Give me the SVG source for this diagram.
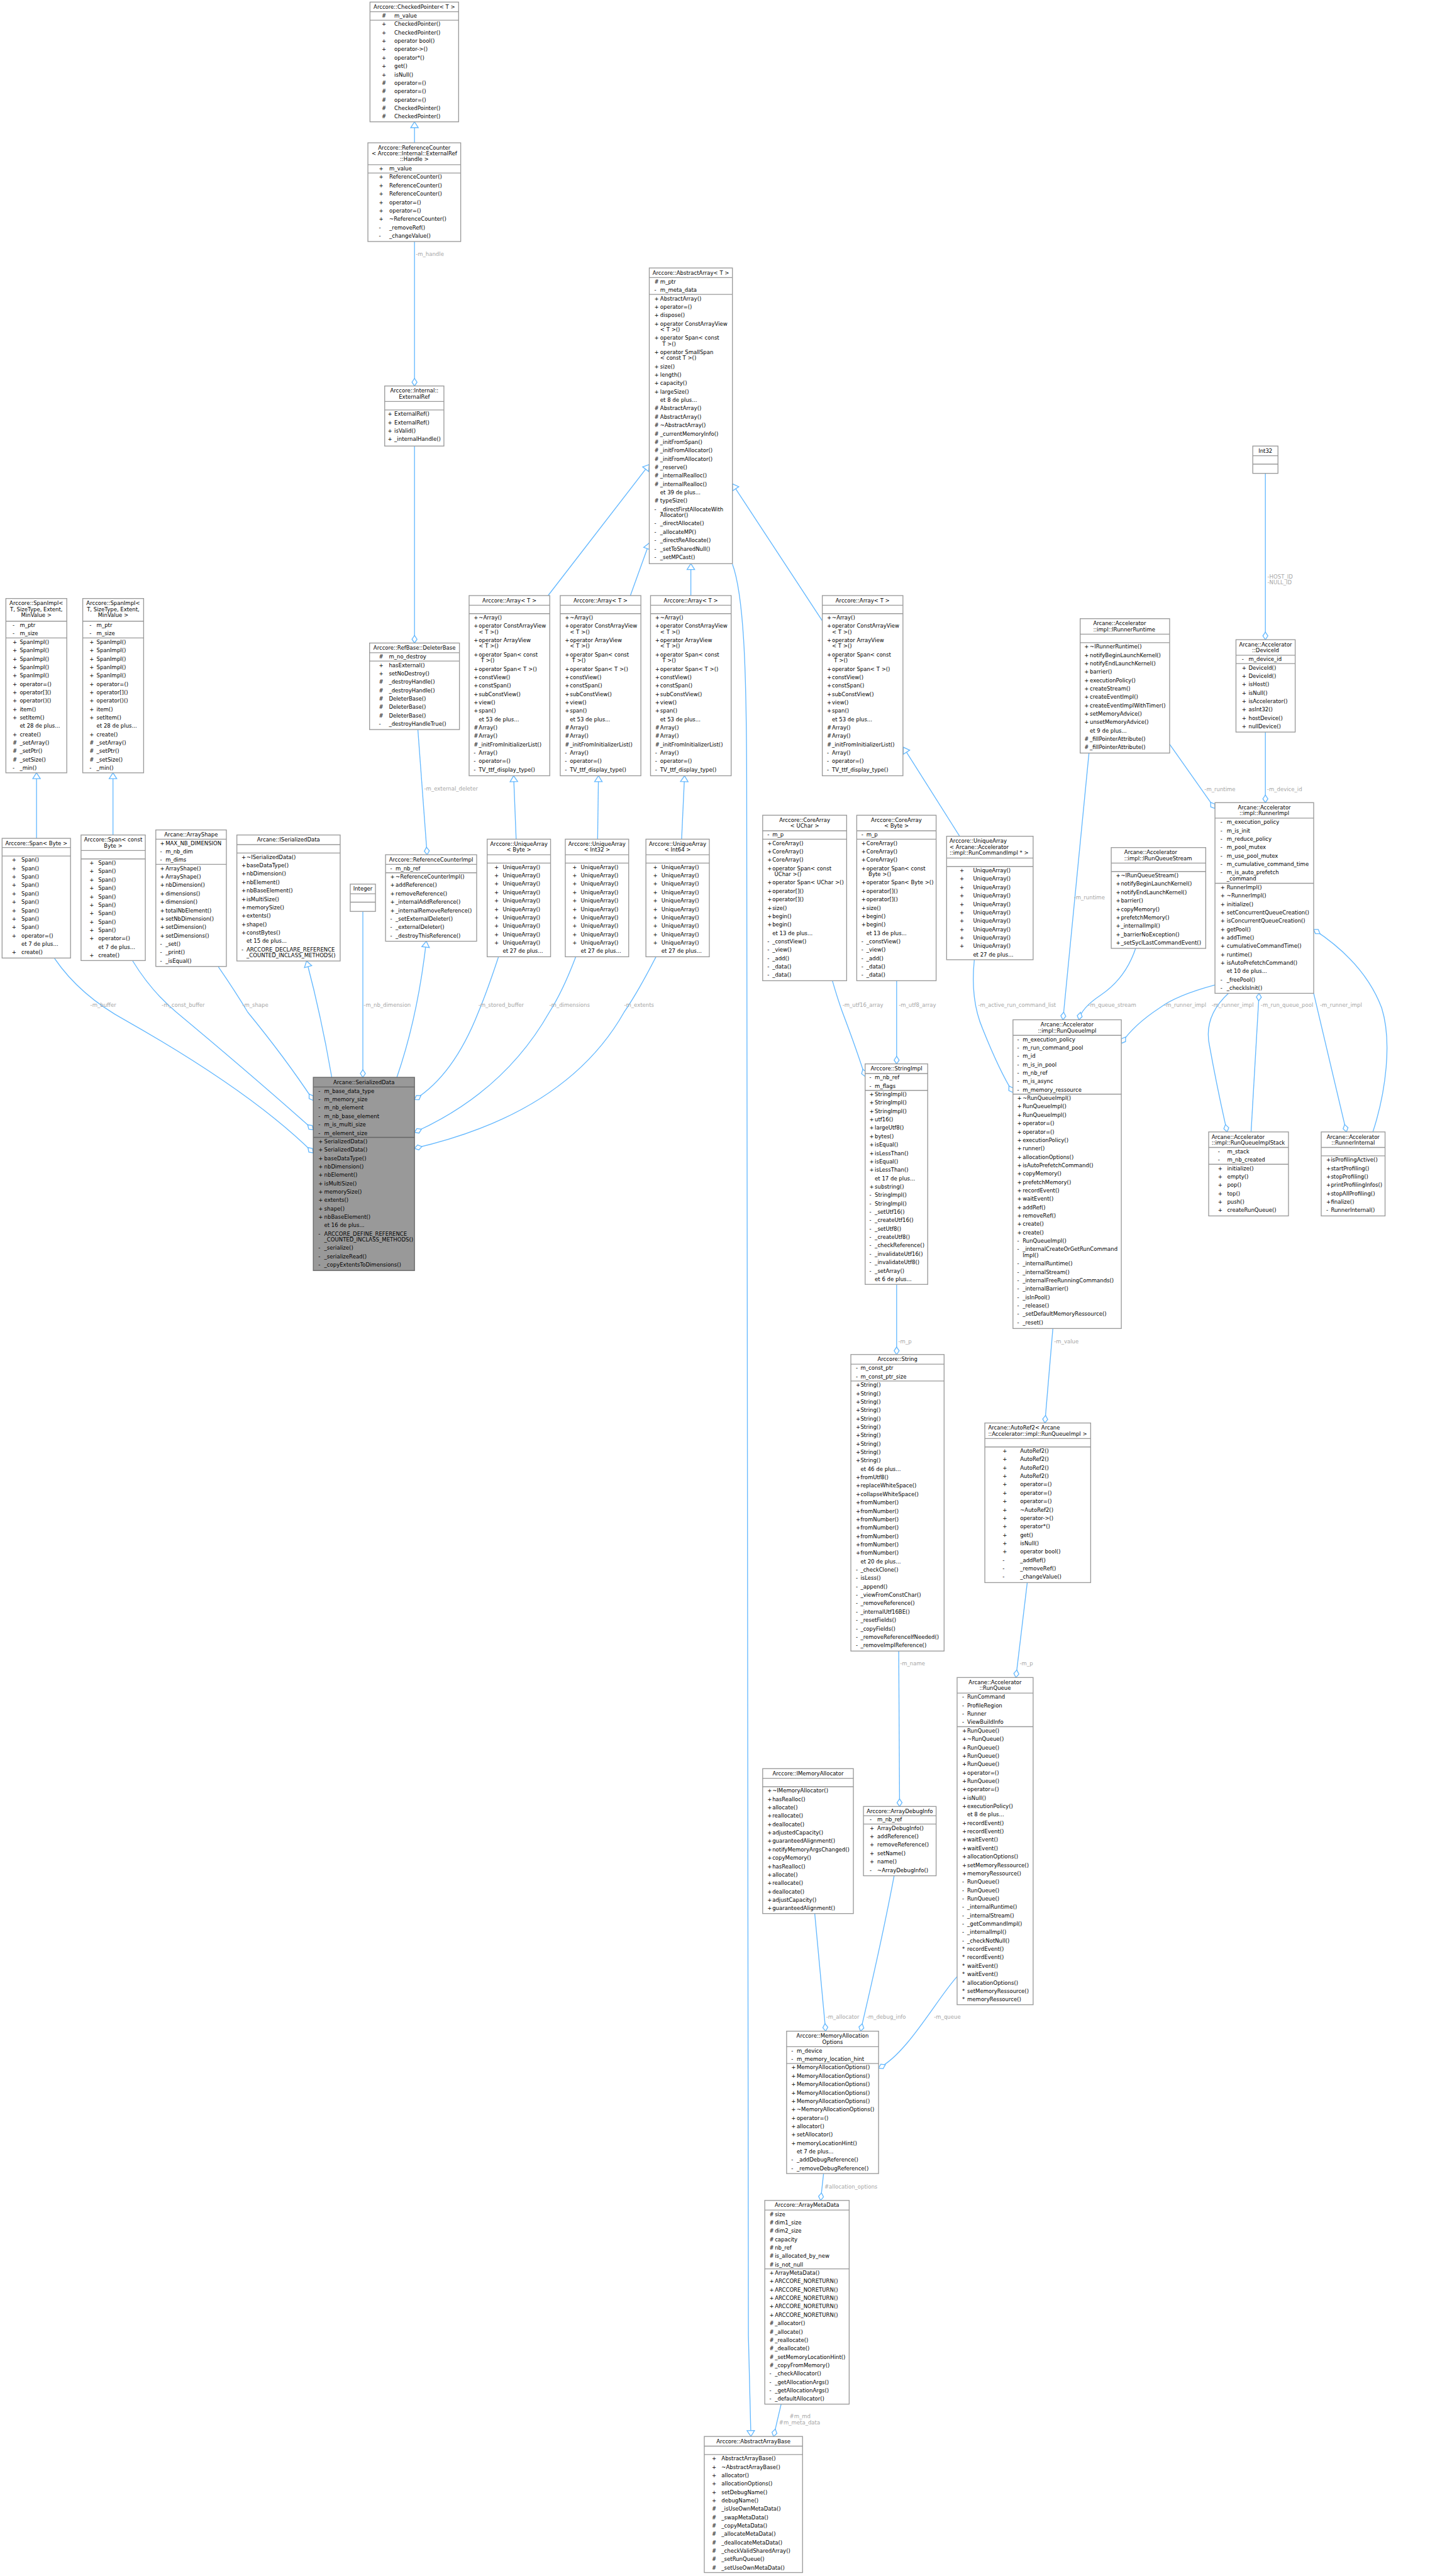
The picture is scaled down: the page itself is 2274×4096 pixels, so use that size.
<svg xmlns="http://www.w3.org/2000/svg" width="2274" height="4096" viewBox="0 0 2274 4096">
<style>
text{font-family:"DejaVu Sans",sans-serif;font-size:12.8px;fill:#000}
.c{text-anchor:middle}
.b{fill:#fff;stroke:#999;stroke-width:2}
.g{fill:#999;stroke:#666;stroke-width:2}
.s{fill:none;stroke:#999;stroke-width:2}
.sg{fill:none;stroke:#666;stroke-width:2}
.e{fill:none;stroke:#63b8ff;stroke-width:2}
.lb{fill:#a6a6a6}
</style>
<defs>
<marker id="tri" viewBox="-2 -2 18 22" refX="14" refY="9" markerWidth="18" markerHeight="22" orient="auto" markerUnits="userSpaceOnUse"><path d="M0,0L14,9L0,18Z" fill="#fff" stroke="#63b8ff" stroke-width="2"/></marker>
<marker id="dia" viewBox="-2 -2 22 16" refX="18" refY="6" markerWidth="22" markerHeight="16" orient="auto" markerUnits="userSpaceOnUse"><path d="M0,6L9,0L18,6L9,12Z" fill="#fff" stroke="#63b8ff" stroke-width="2"/></marker>
</defs>
<rect width="2274" height="4096" fill="#fff"/>
<g transform="scale(0.66784)">
<g id="edges">
<path class="e" marker-end="url(#tri)" d="M987,340L987,290"/>
<path class="e" marker-end="url(#dia)" d="M987,575L987,919"/>
<path class="e" marker-end="url(#dia)" d="M987,1062L987,1531"/>
<path class="e" marker-end="url(#dia)" d="M995,1737L1017,2035"/>
<path class="e" marker-end="url(#tri)" d="M1305,1418L1546,1106"/>
<path class="e" marker-end="url(#tri)" d="M1501,1418L1546,1293"/>
<path class="e" marker-end="url(#tri)" d="M1645,1418L1645,1342"/>
<path class="e" marker-end="url(#tri)" d="M1958,1478L1744,1152"/>
<path class="e" marker-end="url(#tri)" d="M1229,1998L1223,1847"/>
<path class="e" marker-end="url(#tri)" d="M1423,1998L1425,1847"/>
<path class="e" marker-end="url(#tri)" d="M1623,1998L1630,1847"/>
<path class="e" marker-end="url(#tri)" d="M2285,1991L2151,1779"/>
<path class="e" marker-end="url(#tri)" d="M87,1996L87,1840"/>
<path class="e" marker-end="url(#tri)" d="M269,1988L269,1840"/>
<path class="e" marker-end="url(#tri)" d="M790,2565Q765,2420 730,2288"/>
<path class="e" marker-end="url(#tri)" d="M945,2565Q995,2420 1015,2241"/>
<path class="e" marker-end="url(#dia)" d="M864,2170L864,2565"/>
<path class="e" marker-end="url(#dia)" d="M130,2282Q190,2370 300,2430Q600,2600 746,2745"/>
<path class="e" marker-end="url(#dia)" d="M316,2288Q360,2360 420,2410Q600,2560 746,2690"/>
<path class="e" marker-end="url(#dia)" d="M520,2302Q560,2360 590,2410Q680,2520 746,2620"/>
<path class="e" marker-end="url(#dia)" d="M1187,2278Q1160,2360 1139,2410Q1080,2560 987,2618"/>
<path class="e" marker-end="url(#dia)" d="M1371,2278Q1340,2360 1308,2410Q1200,2600 987,2696"/>
<path class="e" marker-end="url(#dia)" d="M1562,2278Q1520,2360 1486,2410Q1350,2650 987,2734"/>
<path class="e" marker-end="url(#tri)" d="M1744,1343C1772,1420 1778,1600 1778,1900L1782,5560L1788,5801"/>
<path class="e" marker-end="url(#dia)" d="M1982,2335Q1995,2380 2006,2410Q2040,2500 2060,2563"/>
<path class="e" marker-end="url(#dia)" d="M2135,2335L2135,2533"/>
<path class="e" marker-end="url(#dia)" d="M2320,2285Q2310,2380 2340,2450Q2380,2550 2412,2601"/>
<path class="e" marker-end="url(#dia)" d="M2593,1793L2531,2428"/>
<path class="e" marker-end="url(#dia)" d="M2704,2258Q2680,2330 2620,2370Q2575,2400 2569,2428"/>
<path class="e" marker-end="url(#dia)" d="M2893,2345Q2800,2370 2761,2400Q2700,2440 2670,2484"/>
<path class="e" marker-end="url(#dia)" d="M2979,2695L2998,2365"/>
<path class="e" marker-end="url(#dia)" d="M2925,2365Q2865,2420 2880,2490Q2900,2600 2922,2695"/>
<path class="e" marker-end="url(#dia)" d="M3128,2365L3206,2695"/>
<path class="e" marker-end="url(#dia)" d="M3269,2695C3300,2600 3315,2480 3290,2400C3260,2320 3200,2260 3128,2213"/>
<path class="e" marker-end="url(#dia)" d="M2785,1772L2893,1925"/>
<path class="e" marker-end="url(#dia)" d="M3013,1743L3013,1911"/>
<path class="e" marker-end="url(#dia)" d="M3013,1127L3013,1523"/>
<path class="e" marker-end="url(#dia)" d="M2507,3163L2488,3388"/>
<path class="e" marker-end="url(#dia)" d="M2446,3768L2419,3994"/>
<path class="e" marker-end="url(#dia)" d="M2135,3058L2135,3225"/>
<path class="e" marker-end="url(#dia)" d="M2140,3931L2142,4301"/>
<path class="e" marker-end="url(#dia)" d="M1940,4556L1966,4836"/>
<path class="e" marker-end="url(#dia)" d="M2129,4466Q2100,4620 2049,4836"/>
<path class="e" marker-end="url(#dia)" d="M2279,4706C2230,4760 2160,4890 2092,4924"/>
<path class="e" marker-end="url(#dia)" d="M1961,5175L1954,5239"/>
<path class="e" marker-end="url(#dia)" d="M1860,5724L1842,5801"/>
<text class="lb" x="990" y="610">-m_handle</text>
<text class="lb" x="1010" y="1882">-m_external_deleter</text>
<text class="lb" x="215" y="2398">-m_buffer</text>
<text class="lb" x="385" y="2398">-m_const_buffer</text>
<text class="lb" x="577" y="2398">-m_shape</text>
<text class="lb" x="866" y="2398">-m_nb_dimension</text>
<text class="lb" x="1139" y="2398">-m_stored_buffer</text>
<text class="lb" x="1308" y="2398">-m_dimensions</text>
<text class="lb" x="1486" y="2398">-m_extents</text>
<text class="lb" x="2006" y="2398">-m_utf16_array</text>
<text class="lb" x="2140" y="2398">-m_utf8_array</text>
<text class="lb" x="2329" y="2398">-m_active_run_command_list</text>
<text class="lb" x="2591" y="2398">-m_queue_stream</text>
<text class="lb" x="2772" y="2398">-m_runner_impl</text>
<text class="lb" x="2885" y="2398">-m_runner_impl</text>
<text class="lb" x="3002" y="2398">-m_run_queue_pool</text>
<text class="lb" x="3143" y="2398">-m_runner_impl</text>
<text class="lb" x="2557" y="2141">-m_runtime</text>
<text class="lb" x="2868" y="1883">-m_runtime</text>
<text class="lb" x="3017" y="1883">-m_device_id</text>
<text class="lb" x="3018" y="1377">-HOST_ID</text>
<text class="lb" x="3018" y="1391">-NULL_ID</text>
<text class="lb" x="2139" y="3198">-m_p</text>
<text class="lb" x="2510" y="3198">-m_value</text>
<text class="lb" x="2143" y="3965">-m_name</text>
<text class="lb" x="2428" y="3965">-m_p</text>
<text class="lb" x="1967" y="4806">-m_allocator</text>
<text class="lb" x="2063" y="4806">-m_debug_info</text>
<text class="lb" x="2224" y="4806">-m_queue</text>
<text class="lb" x="1963" y="5211">#allocation_options</text>
<text class="lb" x="1880" y="5757">#m_md</text>
<text class="lb" x="1855" y="5772">#m_meta_data</text>
</g>

<g id="n_checkedpointer">
<rect class="b" x="881" y="5" width="211" height="285"/>
<path class="s" d="M881,28H1092M881,48H1092"/>
<text class="c" x="986.5" y="21">Arccore::CheckedPointer&lt; T &gt;</text>
<text x="909" y="42">#<tspan x="939">m_value</tspan></text>
<text x="909" y="62">+<tspan x="939">CheckedPointer()</tspan></text>
<text x="909" y="82">+<tspan x="939">CheckedPointer()</tspan></text>
<text x="909" y="102">+<tspan x="939">operator bool()</tspan></text>
<text x="909" y="122">+<tspan x="939">operator-&gt;()</tspan></text>
<text x="909" y="142">+<tspan x="939">operator*()</tspan></text>
<text x="909" y="162">+<tspan x="939">get()</tspan></text>
<text x="909" y="182">+<tspan x="939">isNull()</tspan></text>
<text x="909" y="202">#<tspan x="939">operator=()</tspan></text>
<text x="909" y="222">#<tspan x="939">operator=()</tspan></text>
<text x="909" y="242">#<tspan x="939">operator=()</tspan></text>
<text x="909" y="262">#<tspan x="939">CheckedPointer()</tspan></text>
<text x="909" y="282">#<tspan x="939">CheckedPointer()</tspan></text>
</g>

<g id="n_referencecounter">
<rect class="b" x="876" y="340" width="221" height="235"/>
<path class="s" d="M876,392H1097M876,412H1097"/>
<text class="c" x="986.5" y="356">Arccore::ReferenceCounter</text>
<text class="c" x="986.5" y="370">&lt; Arccore::Internal::ExternalRef</text>
<text class="c" x="986.5" y="384">::Handle &gt;</text>
<text x="902" y="406">+<tspan x="927">m_value</tspan></text>
<text x="902" y="426">+<tspan x="927">ReferenceCounter()</tspan></text>
<text x="902" y="446">+<tspan x="927">ReferenceCounter()</tspan></text>
<text x="902" y="466">+<tspan x="927">ReferenceCounter()</tspan></text>
<text x="902" y="486">+<tspan x="927">operator=()</tspan></text>
<text x="902" y="506">+<tspan x="927">operator=()</tspan></text>
<text x="902" y="526">+<tspan x="927">~ReferenceCounter()</tspan></text>
<text x="902" y="546">-<tspan x="927">_removeRef()</tspan></text>
<text x="902" y="566">-<tspan x="927">_changeValue()</tspan></text>
</g>

<g id="n_externalref">
<rect class="b" x="916" y="919" width="141" height="143"/>
<path class="s" d="M916,956H1057M916,976H1057"/>
<text class="c" x="986.5" y="935">Arccore::Internal::</text>
<text class="c" x="986.5" y="949">ExternalRef</text>
<text x="923" y="990">+<tspan x="939">ExternalRef()</tspan></text>
<text x="923" y="1010">+<tspan x="939">ExternalRef()</tspan></text>
<text x="923" y="1030">+<tspan x="939">isValid()</tspan></text>
<text x="923" y="1050">+<tspan x="939">_internalHandle()</tspan></text>
</g>

<g id="n_deleterbase">
<rect class="b" x="880" y="1531" width="214" height="206"/>
<path class="s" d="M880,1554H1094M880,1574H1094"/>
<text class="c" x="987" y="1547">Arccore::RefBase::DeleterBase</text>
<text x="902" y="1568">#<tspan x="926">m_no_destroy</tspan></text>
<text x="902" y="1588">+<tspan x="926">hasExternal()</tspan></text>
<text x="902" y="1608">+<tspan x="926">setNoDestroy()</tspan></text>
<text x="902" y="1628">#<tspan x="926">_destroyHandle()</tspan></text>
<text x="902" y="1648">#<tspan x="926">_destroyHandle()</tspan></text>
<text x="902" y="1668">#<tspan x="926">DeleterBase()</tspan></text>
<text x="902" y="1688">#<tspan x="926">DeleterBase()</tspan></text>
<text x="902" y="1708">#<tspan x="926">DeleterBase()</tspan></text>
<text x="902" y="1728">-<tspan x="926">_destroyHandleTrue()</tspan></text>
</g>

<g id="n_abstractarray">
<rect class="b" x="1546" y="638" width="198" height="704"/>
<path class="s" d="M1546,661H1744M1546,701H1744"/>
<text class="c" x="1645" y="654">Arccore::AbstractArray&lt; T &gt;</text>
<text x="1558" y="675">#<tspan x="1572">m_ptr</tspan></text>
<text x="1558" y="695">-<tspan x="1572">m_meta_data</tspan></text>
<text x="1558" y="715">+<tspan x="1572">AbstractArray()</tspan></text>
<text x="1558" y="735">+<tspan x="1572">operator=()</tspan></text>
<text x="1558" y="755">+<tspan x="1572">dispose()</tspan></text>
<text x="1558" y="775">+<tspan x="1572">operator ConstArrayView</tspan></text>
<text x="1572" y="789">&lt; T &gt;()</text>
<text x="1558" y="809">+<tspan x="1572">operator Span&lt; const</tspan></text>
<text x="1577" y="823">T &gt;()</text>
<text x="1558" y="843">+<tspan x="1572">operator SmallSpan</tspan></text>
<text x="1572" y="857">&lt; const T &gt;()</text>
<text x="1558" y="877">+<tspan x="1572">size()</tspan></text>
<text x="1558" y="897">+<tspan x="1572">length()</tspan></text>
<text x="1558" y="917">+<tspan x="1572">capacity()</tspan></text>
<text x="1558" y="937">+<tspan x="1572">largeSize()</tspan></text>
<text x="1572" y="957">et 8 de plus...</text>
<text x="1558" y="977">#<tspan x="1572">AbstractArray()</tspan></text>
<text x="1558" y="997">#<tspan x="1572">AbstractArray()</tspan></text>
<text x="1558" y="1017">#<tspan x="1572">~AbstractArray()</tspan></text>
<text x="1558" y="1037">#<tspan x="1572">_currentMemoryInfo()</tspan></text>
<text x="1558" y="1057">#<tspan x="1572">_initFromSpan()</tspan></text>
<text x="1558" y="1077">#<tspan x="1572">_initFromAllocator()</tspan></text>
<text x="1558" y="1097">#<tspan x="1572">_initFromAllocator()</tspan></text>
<text x="1558" y="1117">#<tspan x="1572">_reserve()</tspan></text>
<text x="1558" y="1137">#<tspan x="1572">_internalRealloc()</tspan></text>
<text x="1558" y="1157">#<tspan x="1572">_internalRealloc()</tspan></text>
<text x="1572" y="1177">et 39 de plus...</text>
<text x="1558" y="1197">#<tspan x="1572">typeSize()</tspan></text>
<text x="1558" y="1217">-<tspan x="1572">_directFirstAllocateWith</tspan></text>
<text x="1572" y="1231">Allocator()</text>
<text x="1558" y="1251">-<tspan x="1572">_directAllocate()</tspan></text>
<text x="1558" y="1271">-<tspan x="1572">_allocateMP()</tspan></text>
<text x="1558" y="1291">-<tspan x="1572">_directReAllocate()</tspan></text>
<text x="1558" y="1311">-<tspan x="1572">_setToSharedNull()</tspan></text>
<text x="1558" y="1331">-<tspan x="1572">_setMPCast()</tspan></text>
</g>

<g id="n_array1">
<rect class="b" x="1117" y="1418" width="192" height="429"/>
<path class="s" d="M1117,1441H1309M1117,1461H1309"/>
<text class="c" x="1213" y="1434">Arccore::Array&lt; T &gt;</text>
<text x="1128" y="1475">+<tspan x="1140">~Array()</tspan></text>
<text x="1128" y="1495">+<tspan x="1140">operator ConstArrayView</tspan></text>
<text x="1140" y="1509">&lt; T &gt;()</text>
<text x="1128" y="1529">+<tspan x="1140">operator ArrayView</tspan></text>
<text x="1140" y="1543">&lt; T &gt;()</text>
<text x="1128" y="1563">+<tspan x="1140">operator Span&lt; const</tspan></text>
<text x="1145" y="1577">T &gt;()</text>
<text x="1128" y="1597">+<tspan x="1140">operator Span&lt; T &gt;()</tspan></text>
<text x="1128" y="1617">+<tspan x="1140">constView()</tspan></text>
<text x="1128" y="1637">+<tspan x="1140">constSpan()</tspan></text>
<text x="1128" y="1657">+<tspan x="1140">subConstView()</tspan></text>
<text x="1128" y="1677">+<tspan x="1140">view()</tspan></text>
<text x="1128" y="1697">+<tspan x="1140">span()</tspan></text>
<text x="1140" y="1717">et 53 de plus...</text>
<text x="1128" y="1737">#<tspan x="1140">Array()</tspan></text>
<text x="1128" y="1757">#<tspan x="1140">Array()</tspan></text>
<text x="1128" y="1777">#<tspan x="1140">_initFromInitializerList()</tspan></text>
<text x="1128" y="1797">-<tspan x="1140">Array()</tspan></text>
<text x="1128" y="1817">-<tspan x="1140">operator=()</tspan></text>
<text x="1128" y="1837">-<tspan x="1140">TV_ttf_display_type()</tspan></text>
</g>

<g id="n_array2">
<rect class="b" x="1334" y="1418" width="192" height="429"/>
<path class="s" d="M1334,1441H1526M1334,1461H1526"/>
<text class="c" x="1430" y="1434">Arccore::Array&lt; T &gt;</text>
<text x="1345" y="1475">+<tspan x="1357">~Array()</tspan></text>
<text x="1345" y="1495">+<tspan x="1357">operator ConstArrayView</tspan></text>
<text x="1357" y="1509">&lt; T &gt;()</text>
<text x="1345" y="1529">+<tspan x="1357">operator ArrayView</tspan></text>
<text x="1357" y="1543">&lt; T &gt;()</text>
<text x="1345" y="1563">+<tspan x="1357">operator Span&lt; const</tspan></text>
<text x="1362" y="1577">T &gt;()</text>
<text x="1345" y="1597">+<tspan x="1357">operator Span&lt; T &gt;()</tspan></text>
<text x="1345" y="1617">+<tspan x="1357">constView()</tspan></text>
<text x="1345" y="1637">+<tspan x="1357">constSpan()</tspan></text>
<text x="1345" y="1657">+<tspan x="1357">subConstView()</tspan></text>
<text x="1345" y="1677">+<tspan x="1357">view()</tspan></text>
<text x="1345" y="1697">+<tspan x="1357">span()</tspan></text>
<text x="1357" y="1717">et 53 de plus...</text>
<text x="1345" y="1737">#<tspan x="1357">Array()</tspan></text>
<text x="1345" y="1757">#<tspan x="1357">Array()</tspan></text>
<text x="1345" y="1777">#<tspan x="1357">_initFromInitializerList()</tspan></text>
<text x="1345" y="1797">-<tspan x="1357">Array()</tspan></text>
<text x="1345" y="1817">-<tspan x="1357">operator=()</tspan></text>
<text x="1345" y="1837">-<tspan x="1357">TV_ttf_display_type()</tspan></text>
</g>

<g id="n_array3">
<rect class="b" x="1549" y="1418" width="192" height="429"/>
<path class="s" d="M1549,1441H1741M1549,1461H1741"/>
<text class="c" x="1645" y="1434">Arccore::Array&lt; T &gt;</text>
<text x="1560" y="1475">+<tspan x="1572">~Array()</tspan></text>
<text x="1560" y="1495">+<tspan x="1572">operator ConstArrayView</tspan></text>
<text x="1572" y="1509">&lt; T &gt;()</text>
<text x="1560" y="1529">+<tspan x="1572">operator ArrayView</tspan></text>
<text x="1572" y="1543">&lt; T &gt;()</text>
<text x="1560" y="1563">+<tspan x="1572">operator Span&lt; const</tspan></text>
<text x="1577" y="1577">T &gt;()</text>
<text x="1560" y="1597">+<tspan x="1572">operator Span&lt; T &gt;()</tspan></text>
<text x="1560" y="1617">+<tspan x="1572">constView()</tspan></text>
<text x="1560" y="1637">+<tspan x="1572">constSpan()</tspan></text>
<text x="1560" y="1657">+<tspan x="1572">subConstView()</tspan></text>
<text x="1560" y="1677">+<tspan x="1572">view()</tspan></text>
<text x="1560" y="1697">+<tspan x="1572">span()</tspan></text>
<text x="1572" y="1717">et 53 de plus...</text>
<text x="1560" y="1737">#<tspan x="1572">Array()</tspan></text>
<text x="1560" y="1757">#<tspan x="1572">Array()</tspan></text>
<text x="1560" y="1777">#<tspan x="1572">_initFromInitializerList()</tspan></text>
<text x="1560" y="1797">-<tspan x="1572">Array()</tspan></text>
<text x="1560" y="1817">-<tspan x="1572">operator=()</tspan></text>
<text x="1560" y="1837">-<tspan x="1572">TV_ttf_display_type()</tspan></text>
</g>

<g id="n_array4">
<rect class="b" x="1958" y="1418" width="192" height="429"/>
<path class="s" d="M1958,1441H2150M1958,1461H2150"/>
<text class="c" x="2054" y="1434">Arccore::Array&lt; T &gt;</text>
<text x="1969" y="1475">+<tspan x="1981">~Array()</tspan></text>
<text x="1969" y="1495">+<tspan x="1981">operator ConstArrayView</tspan></text>
<text x="1981" y="1509">&lt; T &gt;()</text>
<text x="1969" y="1529">+<tspan x="1981">operator ArrayView</tspan></text>
<text x="1981" y="1543">&lt; T &gt;()</text>
<text x="1969" y="1563">+<tspan x="1981">operator Span&lt; const</tspan></text>
<text x="1986" y="1577">T &gt;()</text>
<text x="1969" y="1597">+<tspan x="1981">operator Span&lt; T &gt;()</tspan></text>
<text x="1969" y="1617">+<tspan x="1981">constView()</tspan></text>
<text x="1969" y="1637">+<tspan x="1981">constSpan()</tspan></text>
<text x="1969" y="1657">+<tspan x="1981">subConstView()</tspan></text>
<text x="1969" y="1677">+<tspan x="1981">view()</tspan></text>
<text x="1969" y="1697">+<tspan x="1981">span()</tspan></text>
<text x="1981" y="1717">et 53 de plus...</text>
<text x="1969" y="1737">#<tspan x="1981">Array()</tspan></text>
<text x="1969" y="1757">#<tspan x="1981">Array()</tspan></text>
<text x="1969" y="1777">#<tspan x="1981">_initFromInitializerList()</tspan></text>
<text x="1969" y="1797">-<tspan x="1981">Array()</tspan></text>
<text x="1969" y="1817">-<tspan x="1981">operator=()</tspan></text>
<text x="1969" y="1837">-<tspan x="1981">TV_ttf_display_type()</tspan></text>
</g>

<g id="n_spanimpl1">
<rect class="b" x="14" y="1425" width="145" height="415"/>
<path class="s" d="M14,1479H159M14,1519H159"/>
<text class="c" x="86.5" y="1441">Arccore::SpanImpl&lt;</text>
<text class="c" x="86.5" y="1455">T, SizeType, Extent,</text>
<text class="c" x="86.5" y="1469">MinValue &gt;</text>
<text x="30" y="1493">-<tspan x="47">m_ptr</tspan></text>
<text x="30" y="1513">-<tspan x="47">m_size</tspan></text>
<text x="30" y="1533">+<tspan x="47">SpanImpl()</tspan></text>
<text x="30" y="1553">+<tspan x="47">SpanImpl()</tspan></text>
<text x="30" y="1573">+<tspan x="47">SpanImpl()</tspan></text>
<text x="30" y="1593">+<tspan x="47">SpanImpl()</tspan></text>
<text x="30" y="1613">+<tspan x="47">SpanImpl()</tspan></text>
<text x="30" y="1633">+<tspan x="47">operator=()</tspan></text>
<text x="30" y="1653">+<tspan x="47">operator[]()</tspan></text>
<text x="30" y="1673">+<tspan x="47">operator()()</tspan></text>
<text x="30" y="1693">+<tspan x="47">item()</tspan></text>
<text x="30" y="1713">+<tspan x="47">setItem()</tspan></text>
<text x="47" y="1733">et 28 de plus...</text>
<text x="30" y="1753">+<tspan x="47">create()</tspan></text>
<text x="30" y="1773">#<tspan x="47">_setArray()</tspan></text>
<text x="30" y="1793">#<tspan x="47">_setPtr()</tspan></text>
<text x="30" y="1813">#<tspan x="47">_setSize()</tspan></text>
<text x="30" y="1833">-<tspan x="47">_min()</tspan></text>
</g>

<g id="n_spanimpl2">
<rect class="b" x="197" y="1425" width="145" height="415"/>
<path class="s" d="M197,1479H342M197,1519H342"/>
<text class="c" x="269.5" y="1441">Arccore::SpanImpl&lt;</text>
<text class="c" x="269.5" y="1455">T, SizeType, Extent,</text>
<text class="c" x="269.5" y="1469">MinValue &gt;</text>
<text x="213" y="1493">-<tspan x="230">m_ptr</tspan></text>
<text x="213" y="1513">-<tspan x="230">m_size</tspan></text>
<text x="213" y="1533">+<tspan x="230">SpanImpl()</tspan></text>
<text x="213" y="1553">+<tspan x="230">SpanImpl()</tspan></text>
<text x="213" y="1573">+<tspan x="230">SpanImpl()</tspan></text>
<text x="213" y="1593">+<tspan x="230">SpanImpl()</tspan></text>
<text x="213" y="1613">+<tspan x="230">SpanImpl()</tspan></text>
<text x="213" y="1633">+<tspan x="230">operator=()</tspan></text>
<text x="213" y="1653">+<tspan x="230">operator[]()</tspan></text>
<text x="213" y="1673">+<tspan x="230">operator()()</tspan></text>
<text x="213" y="1693">+<tspan x="230">item()</tspan></text>
<text x="213" y="1713">+<tspan x="230">setItem()</tspan></text>
<text x="230" y="1733">et 28 de plus...</text>
<text x="213" y="1753">+<tspan x="230">create()</tspan></text>
<text x="213" y="1773">#<tspan x="230">_setArray()</tspan></text>
<text x="213" y="1793">#<tspan x="230">_setPtr()</tspan></text>
<text x="213" y="1813">#<tspan x="230">_setSize()</tspan></text>
<text x="213" y="1833">-<tspan x="230">_min()</tspan></text>
</g>

<g id="n_span_byte">
<rect class="b" x="5" y="1996" width="163" height="285"/>
<path class="s" d="M5,2018H168M5,2038H168"/>
<text class="c" x="86.5" y="2012">Arccore::Span&lt; Byte &gt;</text>
<text x="28" y="2052">+<tspan x="51">Span()</tspan></text>
<text x="28" y="2072">+<tspan x="51">Span()</tspan></text>
<text x="28" y="2092">+<tspan x="51">Span()</tspan></text>
<text x="28" y="2112">+<tspan x="51">Span()</tspan></text>
<text x="28" y="2132">+<tspan x="51">Span()</tspan></text>
<text x="28" y="2152">+<tspan x="51">Span()</tspan></text>
<text x="28" y="2172">+<tspan x="51">Span()</tspan></text>
<text x="28" y="2192">+<tspan x="51">Span()</tspan></text>
<text x="28" y="2212">+<tspan x="51">Span()</tspan></text>
<text x="28" y="2232">+<tspan x="51">operator=()</tspan></text>
<text x="51" y="2252">et 7 de plus...</text>
<text x="28" y="2272">+<tspan x="51">create()</tspan></text>
</g>

<g id="n_span_constbyte">
<rect class="b" x="193" y="1988" width="153" height="299"/>
<path class="s" d="M193,2025H346M193,2045H346"/>
<text class="c" x="269.5" y="2004">Arccore::Span&lt; const</text>
<text class="c" x="269.5" y="2018">Byte &gt;</text>
<text x="213" y="2059">+<tspan x="234">Span()</tspan></text>
<text x="213" y="2079">+<tspan x="234">Span()</tspan></text>
<text x="213" y="2099">+<tspan x="234">Span()</tspan></text>
<text x="213" y="2119">+<tspan x="234">Span()</tspan></text>
<text x="213" y="2139">+<tspan x="234">Span()</tspan></text>
<text x="213" y="2159">+<tspan x="234">Span()</tspan></text>
<text x="213" y="2179">+<tspan x="234">Span()</tspan></text>
<text x="213" y="2199">+<tspan x="234">Span()</tspan></text>
<text x="213" y="2219">+<tspan x="234">Span()</tspan></text>
<text x="213" y="2239">+<tspan x="234">operator=()</tspan></text>
<text x="234" y="2259">et 7 de plus...</text>
<text x="213" y="2279">+<tspan x="234">create()</tspan></text>
</g>

<g id="n_arrayshape">
<rect class="b" x="371" y="1976" width="168" height="325"/>
<path class="s" d="M371,1998H539M371,2058H539"/>
<text class="c" x="455" y="1992">Arcane::ArrayShape</text>
<text x="381" y="2012">+<tspan x="394">MAX_NB_DIMENSION</tspan></text>
<text x="381" y="2032">-<tspan x="394">m_nb_dim</tspan></text>
<text x="381" y="2052">-<tspan x="394">m_dims</tspan></text>
<text x="381" y="2072">+<tspan x="394">ArrayShape()</tspan></text>
<text x="381" y="2092">+<tspan x="394">ArrayShape()</tspan></text>
<text x="381" y="2112">+<tspan x="394">nbDimension()</tspan></text>
<text x="381" y="2132">+<tspan x="394">dimensions()</tspan></text>
<text x="381" y="2152">+<tspan x="394">dimension()</tspan></text>
<text x="381" y="2172">+<tspan x="394">totalNbElement()</tspan></text>
<text x="381" y="2192">+<tspan x="394">setNbDimension()</tspan></text>
<text x="381" y="2212">+<tspan x="394">setDimension()</tspan></text>
<text x="381" y="2232">+<tspan x="394">setDimensions()</tspan></text>
<text x="381" y="2252">-<tspan x="394">_set()</tspan></text>
<text x="381" y="2272">-<tspan x="394">_print()</tspan></text>
<text x="381" y="2292">-<tspan x="394">_isEqual()</tspan></text>
</g>

<g id="n_iserializeddata">
<rect class="b" x="564" y="1988" width="246" height="300"/>
<path class="s" d="M564,2011H810M564,2031H810"/>
<text class="c" x="687" y="2004">Arcane::ISerializedData</text>
<text x="575" y="2045">+<tspan x="587">~ISerializedData()</tspan></text>
<text x="575" y="2065">+<tspan x="587">baseDataType()</tspan></text>
<text x="575" y="2085">+<tspan x="587">nbDimension()</tspan></text>
<text x="575" y="2105">+<tspan x="587">nbElement()</tspan></text>
<text x="575" y="2125">+<tspan x="587">nbBaseElement()</tspan></text>
<text x="575" y="2145">+<tspan x="587">isMultiSize()</tspan></text>
<text x="575" y="2165">+<tspan x="587">memorySize()</tspan></text>
<text x="575" y="2185">+<tspan x="587">extents()</tspan></text>
<text x="575" y="2205">+<tspan x="587">shape()</tspan></text>
<text x="575" y="2225">+<tspan x="587">constBytes()</tspan></text>
<text x="587" y="2245">et 15 de plus...</text>
<text x="575" y="2265">-<tspan x="587">ARCCORE_DECLARE_REFERENCE</tspan></text>
<text x="587" y="2279">_COUNTED_INCLASS_METHODS()</text>
</g>

<g id="n_integer">
<rect class="b" x="834" y="2105" width="60" height="65"/>
<path class="s" d="M834,2128H894M834,2148H894"/>
<text class="c" x="864" y="2121">Integer</text>
</g>

<g id="n_refcounterimpl">
<rect class="b" x="918" y="2035" width="217" height="206"/>
<path class="s" d="M918,2058H1135M918,2078H1135"/>
<text class="c" x="1026.5" y="2051">Arccore::ReferenceCounterImpl</text>
<text x="929" y="2072">-<tspan x="942">m_nb_ref</tspan></text>
<text x="929" y="2092">+<tspan x="942">~ReferenceCounterImpl()</tspan></text>
<text x="929" y="2112">+<tspan x="942">addReference()</tspan></text>
<text x="929" y="2132">+<tspan x="942">removeReference()</tspan></text>
<text x="929" y="2152">+<tspan x="942">_internalAddReference()</tspan></text>
<text x="929" y="2172">+<tspan x="942">_internalRemoveReference()</tspan></text>
<text x="929" y="2192">-<tspan x="942">_setExternalDeleter()</tspan></text>
<text x="929" y="2212">-<tspan x="942">_externalDeleter()</tspan></text>
<text x="929" y="2232">-<tspan x="942">_destroyThisReference()</tspan></text>
</g>

<g id="n_uniquearray_byte">
<rect class="b" x="1160" y="1998" width="151" height="280"/>
<path class="s" d="M1160,2035H1311M1160,2055H1311"/>
<text class="c" x="1235.5" y="2014">Arccore::UniqueArray</text>
<text class="c" x="1235.5" y="2028">&lt; Byte &gt;</text>
<text x="1177" y="2069">+<tspan x="1197">UniqueArray()</tspan></text>
<text x="1177" y="2089">+<tspan x="1197">UniqueArray()</tspan></text>
<text x="1177" y="2109">+<tspan x="1197">UniqueArray()</tspan></text>
<text x="1177" y="2129">+<tspan x="1197">UniqueArray()</tspan></text>
<text x="1177" y="2149">+<tspan x="1197">UniqueArray()</tspan></text>
<text x="1177" y="2169">+<tspan x="1197">UniqueArray()</tspan></text>
<text x="1177" y="2189">+<tspan x="1197">UniqueArray()</tspan></text>
<text x="1177" y="2209">+<tspan x="1197">UniqueArray()</tspan></text>
<text x="1177" y="2229">+<tspan x="1197">UniqueArray()</tspan></text>
<text x="1177" y="2249">+<tspan x="1197">UniqueArray()</tspan></text>
<text x="1197" y="2269">et 27 de plus...</text>
</g>

<g id="n_uniquearray_int32">
<rect class="b" x="1346" y="1998" width="151" height="280"/>
<path class="s" d="M1346,2035H1497M1346,2055H1497"/>
<text class="c" x="1421.5" y="2014">Arccore::UniqueArray</text>
<text class="c" x="1421.5" y="2028">&lt; Int32 &gt;</text>
<text x="1363" y="2069">+<tspan x="1383">UniqueArray()</tspan></text>
<text x="1363" y="2089">+<tspan x="1383">UniqueArray()</tspan></text>
<text x="1363" y="2109">+<tspan x="1383">UniqueArray()</tspan></text>
<text x="1363" y="2129">+<tspan x="1383">UniqueArray()</tspan></text>
<text x="1363" y="2149">+<tspan x="1383">UniqueArray()</tspan></text>
<text x="1363" y="2169">+<tspan x="1383">UniqueArray()</tspan></text>
<text x="1363" y="2189">+<tspan x="1383">UniqueArray()</tspan></text>
<text x="1363" y="2209">+<tspan x="1383">UniqueArray()</tspan></text>
<text x="1363" y="2229">+<tspan x="1383">UniqueArray()</tspan></text>
<text x="1363" y="2249">+<tspan x="1383">UniqueArray()</tspan></text>
<text x="1383" y="2269">et 27 de plus...</text>
</g>

<g id="n_uniquearray_int64">
<rect class="b" x="1538" y="1998" width="151" height="280"/>
<path class="s" d="M1538,2035H1689M1538,2055H1689"/>
<text class="c" x="1613.5" y="2014">Arccore::UniqueArray</text>
<text class="c" x="1613.5" y="2028">&lt; Int64 &gt;</text>
<text x="1555" y="2069">+<tspan x="1575">UniqueArray()</tspan></text>
<text x="1555" y="2089">+<tspan x="1575">UniqueArray()</tspan></text>
<text x="1555" y="2109">+<tspan x="1575">UniqueArray()</tspan></text>
<text x="1555" y="2129">+<tspan x="1575">UniqueArray()</tspan></text>
<text x="1555" y="2149">+<tspan x="1575">UniqueArray()</tspan></text>
<text x="1555" y="2169">+<tspan x="1575">UniqueArray()</tspan></text>
<text x="1555" y="2189">+<tspan x="1575">UniqueArray()</tspan></text>
<text x="1555" y="2209">+<tspan x="1575">UniqueArray()</tspan></text>
<text x="1555" y="2229">+<tspan x="1575">UniqueArray()</tspan></text>
<text x="1555" y="2249">+<tspan x="1575">UniqueArray()</tspan></text>
<text x="1575" y="2269">et 27 de plus...</text>
</g>

<g id="n_corearray_uchar">
<rect class="b" x="1816" y="1941" width="200" height="394"/>
<path class="s" d="M1816,1978H2016M1816,1998H2016"/>
<text class="c" x="1916" y="1957">Arccore::CoreArray</text>
<text class="c" x="1916" y="1971">&lt; UChar &gt;</text>
<text x="1827" y="1992">-<tspan x="1839">m_p</tspan></text>
<text x="1827" y="2012">+<tspan x="1839">CoreArray()</tspan></text>
<text x="1827" y="2032">+<tspan x="1839">CoreArray()</tspan></text>
<text x="1827" y="2052">+<tspan x="1839">CoreArray()</tspan></text>
<text x="1827" y="2072">+<tspan x="1839">operator Span&lt; const</tspan></text>
<text x="1844" y="2086">UChar &gt;()</text>
<text x="1827" y="2106">+<tspan x="1839">operator Span&lt; UChar &gt;()</tspan></text>
<text x="1827" y="2126">+<tspan x="1839">operator[]()</tspan></text>
<text x="1827" y="2146">+<tspan x="1839">operator[]()</tspan></text>
<text x="1827" y="2166">+<tspan x="1839">size()</tspan></text>
<text x="1827" y="2186">+<tspan x="1839">begin()</tspan></text>
<text x="1827" y="2206">+<tspan x="1839">begin()</tspan></text>
<text x="1839" y="2226">et 13 de plus...</text>
<text x="1827" y="2246">-<tspan x="1839">_constView()</tspan></text>
<text x="1827" y="2266">-<tspan x="1839">_view()</tspan></text>
<text x="1827" y="2286">-<tspan x="1839">_add()</tspan></text>
<text x="1827" y="2306">-<tspan x="1839">_data()</tspan></text>
<text x="1827" y="2326">-<tspan x="1839">_data()</tspan></text>
</g>

<g id="n_corearray_byte">
<rect class="b" x="2040" y="1941" width="189" height="394"/>
<path class="s" d="M2040,1978H2229M2040,1998H2229"/>
<text class="c" x="2134.5" y="1957">Arccore::CoreArray</text>
<text class="c" x="2134.5" y="1971">&lt; Byte &gt;</text>
<text x="2051" y="1992">-<tspan x="2063">m_p</tspan></text>
<text x="2051" y="2012">+<tspan x="2063">CoreArray()</tspan></text>
<text x="2051" y="2032">+<tspan x="2063">CoreArray()</tspan></text>
<text x="2051" y="2052">+<tspan x="2063">CoreArray()</tspan></text>
<text x="2051" y="2072">+<tspan x="2063">operator Span&lt; const</tspan></text>
<text x="2068" y="2086">Byte &gt;()</text>
<text x="2051" y="2106">+<tspan x="2063">operator Span&lt; Byte &gt;()</tspan></text>
<text x="2051" y="2126">+<tspan x="2063">operator[]()</tspan></text>
<text x="2051" y="2146">+<tspan x="2063">operator[]()</tspan></text>
<text x="2051" y="2166">+<tspan x="2063">size()</tspan></text>
<text x="2051" y="2186">+<tspan x="2063">begin()</tspan></text>
<text x="2051" y="2206">+<tspan x="2063">begin()</tspan></text>
<text x="2063" y="2226">et 13 de plus...</text>
<text x="2051" y="2246">-<tspan x="2063">_constView()</tspan></text>
<text x="2051" y="2266">-<tspan x="2063">_view()</tspan></text>
<text x="2051" y="2286">-<tspan x="2063">_add()</tspan></text>
<text x="2051" y="2306">-<tspan x="2063">_data()</tspan></text>
<text x="2051" y="2326">-<tspan x="2063">_data()</tspan></text>
</g>

<g id="n_uniquearray_runcommandimpl">
<rect class="b" x="2254" y="1991" width="206" height="294"/>
<path class="s" d="M2254,2043H2460M2254,2063H2460"/>
<text x="2261" y="2007">Arccore::UniqueArray</text>
<text x="2261" y="2021">&lt; Arcane::Accelerator</text>
<text x="2261" y="2035">::impl::RunCommandImpl * &gt;</text>
<text x="2285" y="2077">+<tspan x="2317">UniqueArray()</tspan></text>
<text x="2285" y="2097">+<tspan x="2317">UniqueArray()</tspan></text>
<text x="2285" y="2117">+<tspan x="2317">UniqueArray()</tspan></text>
<text x="2285" y="2137">+<tspan x="2317">UniqueArray()</tspan></text>
<text x="2285" y="2157">+<tspan x="2317">UniqueArray()</tspan></text>
<text x="2285" y="2177">+<tspan x="2317">UniqueArray()</tspan></text>
<text x="2285" y="2197">+<tspan x="2317">UniqueArray()</tspan></text>
<text x="2285" y="2217">+<tspan x="2317">UniqueArray()</tspan></text>
<text x="2285" y="2237">+<tspan x="2317">UniqueArray()</tspan></text>
<text x="2285" y="2257">+<tspan x="2317">UniqueArray()</tspan></text>
<text x="2317" y="2277">et 27 de plus...</text>
</g>

<g id="n_irunqueuestream">
<rect class="b" x="2646" y="2018" width="225" height="240"/>
<path class="s" d="M2646,2055H2871M2646,2075H2871"/>
<text x="2677" y="2034">Arcane::Accelerator</text>
<text x="2677" y="2048">::impl::IRunQueueStream</text>
<text x="2657" y="2089">+<tspan x="2669">~IRunQueueStream()</tspan></text>
<text x="2657" y="2109">+<tspan x="2669">notifyBeginLaunchKernel()</tspan></text>
<text x="2657" y="2129">+<tspan x="2669">notifyEndLaunchKernel()</tspan></text>
<text x="2657" y="2149">+<tspan x="2669">barrier()</tspan></text>
<text x="2657" y="2169">+<tspan x="2669">copyMemory()</tspan></text>
<text x="2657" y="2189">+<tspan x="2669">prefetchMemory()</tspan></text>
<text x="2657" y="2209">+<tspan x="2669">_internalImpl()</tspan></text>
<text x="2657" y="2229">+<tspan x="2669">_barrierNoException()</tspan></text>
<text x="2657" y="2249">+<tspan x="2669">_setSyclLastCommandEvent()</tspan></text>
</g>

<g id="n_irunnerruntime">
<rect class="b" x="2572" y="1473" width="213" height="320"/>
<path class="s" d="M2572,1510H2785M2572,1530H2785"/>
<text x="2603" y="1489">Arcane::Accelerator</text>
<text x="2603" y="1503">::impl::IRunnerRuntime</text>
<text x="2582" y="1544">+<tspan x="2595">~IRunnerRuntime()</tspan></text>
<text x="2582" y="1564">+<tspan x="2595">notifyBeginLaunchKernel()</tspan></text>
<text x="2582" y="1584">+<tspan x="2595">notifyEndLaunchKernel()</tspan></text>
<text x="2582" y="1604">+<tspan x="2595">barrier()</tspan></text>
<text x="2582" y="1624">+<tspan x="2595">executionPolicy()</tspan></text>
<text x="2582" y="1644">+<tspan x="2595">createStream()</tspan></text>
<text x="2582" y="1664">+<tspan x="2595">createEventImpl()</tspan></text>
<text x="2582" y="1684">+<tspan x="2595">createEventImplWithTimer()</tspan></text>
<text x="2582" y="1704">+<tspan x="2595">setMemoryAdvice()</tspan></text>
<text x="2582" y="1724">+<tspan x="2595">unsetMemoryAdvice()</tspan></text>
<text x="2595" y="1744">et 9 de plus...</text>
<text x="2582" y="1764">#<tspan x="2595">_fillPointerAttribute()</tspan></text>
<text x="2582" y="1784">#<tspan x="2595">_fillPointerAttribute()</tspan></text>
</g>

<g id="n_deviceid">
<rect class="b" x="2943" y="1523" width="141" height="220"/>
<path class="s" d="M2943,1560H3084M2943,1580H3084"/>
<text class="c" x="3013.5" y="1539">Arcane::Accelerator</text>
<text class="c" x="3013.5" y="1553">::DeviceId</text>
<text x="2957" y="1574">-<tspan x="2973">m_device_id</tspan></text>
<text x="2957" y="1594">+<tspan x="2973">DeviceId()</tspan></text>
<text x="2957" y="1614">+<tspan x="2973">DeviceId()</tspan></text>
<text x="2957" y="1634">+<tspan x="2973">isHost()</tspan></text>
<text x="2957" y="1654">+<tspan x="2973">isNull()</tspan></text>
<text x="2957" y="1674">+<tspan x="2973">isAccelerator()</tspan></text>
<text x="2957" y="1694">+<tspan x="2973">asInt32()</tspan></text>
<text x="2957" y="1714">+<tspan x="2973">hostDevice()</tspan></text>
<text x="2957" y="1734">+<tspan x="2973">nullDevice()</tspan></text>
</g>

<g id="n_int32">
<rect class="b" x="2983" y="1062" width="60" height="65"/>
<path class="s" d="M2983,1085H3043M2983,1105H3043"/>
<text class="c" x="3013" y="1078">Int32</text>
</g>

<g id="n_runnerimpl">
<rect class="b" x="2893" y="1911" width="235" height="454"/>
<path class="s" d="M2893,1948H3128M2893,2103H3128"/>
<text class="c" x="3010.5" y="1927">Arcane::Accelerator</text>
<text class="c" x="3010.5" y="1941">::impl::RunnerImpl</text>
<text x="2906" y="1962">-<tspan x="2921">m_execution_policy</tspan></text>
<text x="2906" y="1982">-<tspan x="2921">m_is_init</tspan></text>
<text x="2906" y="2002">-<tspan x="2921">m_reduce_policy</tspan></text>
<text x="2906" y="2022">-<tspan x="2921">m_pool_mutex</tspan></text>
<text x="2906" y="2042">-<tspan x="2921">m_use_pool_mutex</tspan></text>
<text x="2906" y="2062">-<tspan x="2921">m_cumulative_command_time</tspan></text>
<text x="2906" y="2082">-<tspan x="2921">m_is_auto_prefetch</tspan></text>
<text x="2921" y="2096">_command</text>
<text x="2906" y="2117">+<tspan x="2921">RunnerImpl()</tspan></text>
<text x="2906" y="2137">+<tspan x="2921">~RunnerImpl()</tspan></text>
<text x="2906" y="2157">+<tspan x="2921">initialize()</tspan></text>
<text x="2906" y="2177">+<tspan x="2921">setConcurrentQueueCreation()</tspan></text>
<text x="2906" y="2197">+<tspan x="2921">isConcurrentQueueCreation()</tspan></text>
<text x="2906" y="2217">+<tspan x="2921">getPool()</tspan></text>
<text x="2906" y="2237">+<tspan x="2921">addTime()</tspan></text>
<text x="2906" y="2257">+<tspan x="2921">cumulativeCommandTime()</tspan></text>
<text x="2906" y="2277">+<tspan x="2921">runtime()</tspan></text>
<text x="2906" y="2297">+<tspan x="2921">isAutoPrefetchCommand()</tspan></text>
<text x="2921" y="2317">et 10 de plus...</text>
<text x="2906" y="2337">-<tspan x="2921">_freePool()</tspan></text>
<text x="2906" y="2357">-<tspan x="2921">_checkIsInit()</tspan></text>
</g>

<g id="n_serializeddata">
<rect class="g" x="746" y="2565" width="241" height="460"/>
<path class="sg" d="M746,2588H987M746,2708H987"/>
<text class="c" x="866.5" y="2581">Arcane::SerializedData</text>
<text x="758" y="2602">-<tspan x="772">m_base_data_type</tspan></text>
<text x="758" y="2622">-<tspan x="772">m_memory_size</tspan></text>
<text x="758" y="2642">-<tspan x="772">m_nb_element</tspan></text>
<text x="758" y="2662">-<tspan x="772">m_nb_base_element</tspan></text>
<text x="758" y="2682">-<tspan x="772">m_is_multi_size</tspan></text>
<text x="758" y="2702">-<tspan x="772">m_element_size</tspan></text>
<text x="758" y="2722">+<tspan x="772">SerializedData()</tspan></text>
<text x="758" y="2742">+<tspan x="772">SerializedData()</tspan></text>
<text x="758" y="2762">+<tspan x="772">baseDataType()</tspan></text>
<text x="758" y="2782">+<tspan x="772">nbDimension()</tspan></text>
<text x="758" y="2802">+<tspan x="772">nbElement()</tspan></text>
<text x="758" y="2822">+<tspan x="772">isMultiSize()</tspan></text>
<text x="758" y="2842">+<tspan x="772">memorySize()</tspan></text>
<text x="758" y="2862">+<tspan x="772">extents()</tspan></text>
<text x="758" y="2882">+<tspan x="772">shape()</tspan></text>
<text x="758" y="2902">+<tspan x="772">nbBaseElement()</tspan></text>
<text x="772" y="2922">et 16 de plus...</text>
<text x="758" y="2942">-<tspan x="772">ARCCORE_DEFINE_REFERENCE</tspan></text>
<text x="772" y="2956">_COUNTED_INCLASS_METHODS()</text>
<text x="758" y="2976">-<tspan x="772">_serialize()</tspan></text>
<text x="758" y="2996">-<tspan x="772">_serializeRead()</tspan></text>
<text x="758" y="3016">-<tspan x="772">_copyExtentsToDimensions()</tspan></text>
</g>

<g id="n_stringimpl">
<rect class="b" x="2060" y="2533" width="149" height="525"/>
<path class="s" d="M2060,2556H2209M2060,2596H2209"/>
<text class="c" x="2134.5" y="2549">Arccore::StringImpl</text>
<text x="2070" y="2570">-<tspan x="2083">m_nb_ref</tspan></text>
<text x="2070" y="2590">-<tspan x="2083">m_flags</tspan></text>
<text x="2070" y="2610">+<tspan x="2083">StringImpl()</tspan></text>
<text x="2070" y="2630">+<tspan x="2083">StringImpl()</tspan></text>
<text x="2070" y="2650">+<tspan x="2083">StringImpl()</tspan></text>
<text x="2070" y="2670">+<tspan x="2083">utf16()</tspan></text>
<text x="2070" y="2690">+<tspan x="2083">largeUtf8()</tspan></text>
<text x="2070" y="2710">+<tspan x="2083">bytes()</tspan></text>
<text x="2070" y="2730">+<tspan x="2083">isEqual()</tspan></text>
<text x="2070" y="2750">+<tspan x="2083">isLessThan()</tspan></text>
<text x="2070" y="2770">+<tspan x="2083">isEqual()</tspan></text>
<text x="2070" y="2790">+<tspan x="2083">isLessThan()</tspan></text>
<text x="2083" y="2810">et 17 de plus...</text>
<text x="2070" y="2830">+<tspan x="2083">substring()</tspan></text>
<text x="2070" y="2850">-<tspan x="2083">StringImpl()</tspan></text>
<text x="2070" y="2870">-<tspan x="2083">StringImpl()</tspan></text>
<text x="2070" y="2890">-<tspan x="2083">_setUtf16()</tspan></text>
<text x="2070" y="2910">-<tspan x="2083">_createUtf16()</tspan></text>
<text x="2070" y="2930">-<tspan x="2083">_setUtf8()</tspan></text>
<text x="2070" y="2950">-<tspan x="2083">_createUtf8()</tspan></text>
<text x="2070" y="2970">-<tspan x="2083">_checkReference()</tspan></text>
<text x="2070" y="2990">-<tspan x="2083">_invalidateUtf16()</tspan></text>
<text x="2070" y="3010">-<tspan x="2083">_invalidateUtf8()</tspan></text>
<text x="2070" y="3030">-<tspan x="2083">_setArray()</tspan></text>
<text x="2083" y="3050">et 6 de plus...</text>
</g>

<g id="n_runqueueimpl">
<rect class="b" x="2412" y="2428" width="258" height="735"/>
<path class="s" d="M2412,2465H2670M2412,2605H2670"/>
<text class="c" x="2541" y="2444">Arcane::Accelerator</text>
<text class="c" x="2541" y="2458">::impl::RunQueueImpl</text>
<text x="2422" y="2479">-<tspan x="2435">m_execution_policy</tspan></text>
<text x="2422" y="2499">-<tspan x="2435">m_run_command_pool</tspan></text>
<text x="2422" y="2519">-<tspan x="2435">m_id</tspan></text>
<text x="2422" y="2539">-<tspan x="2435">m_is_in_pool</tspan></text>
<text x="2422" y="2559">-<tspan x="2435">m_nb_ref</tspan></text>
<text x="2422" y="2579">-<tspan x="2435">m_is_async</tspan></text>
<text x="2422" y="2599">-<tspan x="2435">m_memory_ressource</tspan></text>
<text x="2422" y="2619">+<tspan x="2435">~RunQueueImpl()</tspan></text>
<text x="2422" y="2639">+<tspan x="2435">RunQueueImpl()</tspan></text>
<text x="2422" y="2659">+<tspan x="2435">RunQueueImpl()</tspan></text>
<text x="2422" y="2679">+<tspan x="2435">operator=()</tspan></text>
<text x="2422" y="2699">+<tspan x="2435">operator=()</tspan></text>
<text x="2422" y="2719">+<tspan x="2435">executionPolicy()</tspan></text>
<text x="2422" y="2739">+<tspan x="2435">runner()</tspan></text>
<text x="2422" y="2759">+<tspan x="2435">allocationOptions()</tspan></text>
<text x="2422" y="2779">+<tspan x="2435">isAutoPrefetchCommand()</tspan></text>
<text x="2422" y="2799">+<tspan x="2435">copyMemory()</tspan></text>
<text x="2422" y="2819">+<tspan x="2435">prefetchMemory()</tspan></text>
<text x="2422" y="2839">+<tspan x="2435">recordEvent()</tspan></text>
<text x="2422" y="2859">+<tspan x="2435">waitEvent()</tspan></text>
<text x="2422" y="2879">+<tspan x="2435">addRef()</tspan></text>
<text x="2422" y="2899">+<tspan x="2435">removeRef()</tspan></text>
<text x="2422" y="2919">+<tspan x="2435">create()</tspan></text>
<text x="2422" y="2939">+<tspan x="2435">create()</tspan></text>
<text x="2422" y="2959">-<tspan x="2435">RunQueueImpl()</tspan></text>
<text x="2422" y="2979">-<tspan x="2435">_internalCreateOrGetRunCommand</tspan></text>
<text x="2435" y="2993">Impl()</text>
<text x="2422" y="3013">-<tspan x="2435">_internalRuntime()</tspan></text>
<text x="2422" y="3033">-<tspan x="2435">_internalStream()</tspan></text>
<text x="2422" y="3053">-<tspan x="2435">_internalFreeRunningCommands()</tspan></text>
<text x="2422" y="3073">-<tspan x="2435">_internalBarrier()</tspan></text>
<text x="2422" y="3093">-<tspan x="2435">_isInPool()</tspan></text>
<text x="2422" y="3113">-<tspan x="2435">_release()</tspan></text>
<text x="2422" y="3133">-<tspan x="2435">_setDefaultMemoryRessource()</tspan></text>
<text x="2422" y="3153">-<tspan x="2435">_reset()</tspan></text>
</g>

<g id="n_runqueueimplstack">
<rect class="b" x="2878" y="2695" width="190" height="200"/>
<path class="s" d="M2878,2732H3068M2878,2772H3068"/>
<text x="2885" y="2711">Arcane::Accelerator</text>
<text x="2885" y="2725">::impl::RunQueueImplStack</text>
<text x="2900" y="2746">-<tspan x="2922">m_stack</tspan></text>
<text x="2900" y="2766">-<tspan x="2922">m_nb_created</tspan></text>
<text x="2900" y="2786">+<tspan x="2922">initialize()</tspan></text>
<text x="2900" y="2806">+<tspan x="2922">empty()</tspan></text>
<text x="2900" y="2826">+<tspan x="2922">pop()</tspan></text>
<text x="2900" y="2846">+<tspan x="2922">top()</tspan></text>
<text x="2900" y="2866">+<tspan x="2922">push()</tspan></text>
<text x="2900" y="2886">+<tspan x="2922">createRunQueue()</tspan></text>
</g>

<g id="n_runnerinternal">
<rect class="b" x="3146" y="2695" width="152" height="200"/>
<path class="s" d="M3146,2732H3298M3146,2752H3298"/>
<text class="c" x="3222" y="2711">Arcane::Accelerator</text>
<text class="c" x="3222" y="2725">::RunnerInternal</text>
<text x="3158" y="2766">+<tspan x="3169">isProfilingActive()</tspan></text>
<text x="3158" y="2786">+<tspan x="3169">startProfiling()</tspan></text>
<text x="3158" y="2806">+<tspan x="3169">stopProfiling()</tspan></text>
<text x="3158" y="2826">+<tspan x="3169">printProfilingInfos()</tspan></text>
<text x="3158" y="2846">+<tspan x="3169">stopAllProfiling()</tspan></text>
<text x="3158" y="2866">+<tspan x="3169">finalize()</tspan></text>
<text x="3158" y="2886">-<tspan x="3169">RunnerInternal()</tspan></text>
</g>

<g id="n_string">
<rect class="b" x="2026" y="3225" width="222" height="706"/>
<path class="s" d="M2026,3248H2248M2026,3288H2248"/>
<text class="c" x="2137" y="3241">Arccore::String</text>
<text x="2038" y="3262">-<tspan x="2049">m_const_ptr</tspan></text>
<text x="2038" y="3282">-<tspan x="2049">m_const_ptr_size</tspan></text>
<text x="2038" y="3302">+<tspan x="2049">String()</tspan></text>
<text x="2038" y="3322">+<tspan x="2049">String()</tspan></text>
<text x="2038" y="3342">+<tspan x="2049">String()</tspan></text>
<text x="2038" y="3362">+<tspan x="2049">String()</tspan></text>
<text x="2038" y="3382">+<tspan x="2049">String()</tspan></text>
<text x="2038" y="3402">+<tspan x="2049">String()</tspan></text>
<text x="2038" y="3422">+<tspan x="2049">String()</tspan></text>
<text x="2038" y="3442">+<tspan x="2049">String()</tspan></text>
<text x="2038" y="3462">+<tspan x="2049">String()</tspan></text>
<text x="2038" y="3482">+<tspan x="2049">String()</tspan></text>
<text x="2049" y="3502">et 46 de plus...</text>
<text x="2038" y="3522">+<tspan x="2049">fromUtf8()</tspan></text>
<text x="2038" y="3542">+<tspan x="2049">replaceWhiteSpace()</tspan></text>
<text x="2038" y="3562">+<tspan x="2049">collapseWhiteSpace()</tspan></text>
<text x="2038" y="3582">+<tspan x="2049">fromNumber()</tspan></text>
<text x="2038" y="3602">+<tspan x="2049">fromNumber()</tspan></text>
<text x="2038" y="3622">+<tspan x="2049">fromNumber()</tspan></text>
<text x="2038" y="3642">+<tspan x="2049">fromNumber()</tspan></text>
<text x="2038" y="3662">+<tspan x="2049">fromNumber()</tspan></text>
<text x="2038" y="3682">+<tspan x="2049">fromNumber()</tspan></text>
<text x="2038" y="3702">+<tspan x="2049">fromNumber()</tspan></text>
<text x="2049" y="3722">et 20 de plus...</text>
<text x="2038" y="3742">-<tspan x="2049">_checkClone()</tspan></text>
<text x="2038" y="3762">-<tspan x="2049">isLess()</tspan></text>
<text x="2038" y="3782">-<tspan x="2049">_append()</tspan></text>
<text x="2038" y="3802">-<tspan x="2049">_viewFromConstChar()</tspan></text>
<text x="2038" y="3822">-<tspan x="2049">_removeReference()</tspan></text>
<text x="2038" y="3842">-<tspan x="2049">_internalUtf16BE()</tspan></text>
<text x="2038" y="3862">-<tspan x="2049">_resetFields()</tspan></text>
<text x="2038" y="3882">-<tspan x="2049">_copyFields()</tspan></text>
<text x="2038" y="3902">-<tspan x="2049">_removeReferenceIfNeeded()</tspan></text>
<text x="2038" y="3922">-<tspan x="2049">_removeImplReference()</tspan></text>
</g>

<g id="n_autoref2">
<rect class="b" x="2345" y="3388" width="252" height="380"/>
<path class="s" d="M2345,3425H2597M2345,3445H2597"/>
<text x="2353" y="3404">Arcane::AutoRef2&lt; Arcane</text>
<text x="2353" y="3418">::Accelerator::impl::RunQueueImpl &gt;</text>
<text x="2387" y="3459">+<tspan x="2429">AutoRef2()</tspan></text>
<text x="2387" y="3479">+<tspan x="2429">AutoRef2()</tspan></text>
<text x="2387" y="3499">+<tspan x="2429">AutoRef2()</tspan></text>
<text x="2387" y="3519">+<tspan x="2429">AutoRef2()</tspan></text>
<text x="2387" y="3539">+<tspan x="2429">operator=()</tspan></text>
<text x="2387" y="3559">+<tspan x="2429">operator=()</tspan></text>
<text x="2387" y="3579">+<tspan x="2429">operator=()</tspan></text>
<text x="2387" y="3599">+<tspan x="2429">~AutoRef2()</tspan></text>
<text x="2387" y="3619">+<tspan x="2429">operator-&gt;()</tspan></text>
<text x="2387" y="3639">+<tspan x="2429">operator*()</tspan></text>
<text x="2387" y="3659">+<tspan x="2429">get()</tspan></text>
<text x="2387" y="3679">+<tspan x="2429">isNull()</tspan></text>
<text x="2387" y="3699">+<tspan x="2429">operator bool()</tspan></text>
<text x="2387" y="3719">-<tspan x="2429">_addRef()</tspan></text>
<text x="2387" y="3739">-<tspan x="2429">_removeRef()</tspan></text>
<text x="2387" y="3759">-<tspan x="2429">_changeValue()</tspan></text>
</g>

<g id="n_runqueue">
<rect class="b" x="2279" y="3994" width="181" height="779"/>
<path class="s" d="M2279,4031H2460M2279,4111H2460"/>
<text class="c" x="2369.5" y="4010">Arcane::Accelerator</text>
<text class="c" x="2369.5" y="4024">::RunQueue</text>
<text x="2291" y="4045">-<tspan x="2303">RunCommand</tspan></text>
<text x="2291" y="4065">-<tspan x="2303">ProfileRegion</tspan></text>
<text x="2291" y="4085">-<tspan x="2303">Runner</tspan></text>
<text x="2291" y="4105">-<tspan x="2303">ViewBuildInfo</tspan></text>
<text x="2291" y="4125">+<tspan x="2303">RunQueue()</tspan></text>
<text x="2291" y="4145">+<tspan x="2303">~RunQueue()</tspan></text>
<text x="2291" y="4165">+<tspan x="2303">RunQueue()</tspan></text>
<text x="2291" y="4185">+<tspan x="2303">RunQueue()</tspan></text>
<text x="2291" y="4205">+<tspan x="2303">RunQueue()</tspan></text>
<text x="2291" y="4225">+<tspan x="2303">operator=()</tspan></text>
<text x="2291" y="4245">+<tspan x="2303">RunQueue()</tspan></text>
<text x="2291" y="4265">+<tspan x="2303">operator=()</tspan></text>
<text x="2291" y="4285">+<tspan x="2303">isNull()</tspan></text>
<text x="2291" y="4305">+<tspan x="2303">executionPolicy()</tspan></text>
<text x="2303" y="4325">et 8 de plus...</text>
<text x="2291" y="4345">+<tspan x="2303">recordEvent()</tspan></text>
<text x="2291" y="4365">+<tspan x="2303">recordEvent()</tspan></text>
<text x="2291" y="4385">+<tspan x="2303">waitEvent()</tspan></text>
<text x="2291" y="4405">+<tspan x="2303">waitEvent()</tspan></text>
<text x="2291" y="4425">+<tspan x="2303">allocationOptions()</tspan></text>
<text x="2291" y="4445">+<tspan x="2303">setMemoryRessource()</tspan></text>
<text x="2291" y="4465">+<tspan x="2303">memoryRessource()</tspan></text>
<text x="2291" y="4485">-<tspan x="2303">RunQueue()</tspan></text>
<text x="2291" y="4505">-<tspan x="2303">RunQueue()</tspan></text>
<text x="2291" y="4525">-<tspan x="2303">RunQueue()</tspan></text>
<text x="2291" y="4545">-<tspan x="2303">_internalRuntime()</tspan></text>
<text x="2291" y="4565">-<tspan x="2303">_internalStream()</tspan></text>
<text x="2291" y="4585">-<tspan x="2303">_getCommandImpl()</tspan></text>
<text x="2291" y="4605">-<tspan x="2303">_internalImpl()</tspan></text>
<text x="2291" y="4625">-<tspan x="2303">_checkNotNull()</tspan></text>
<text x="2291" y="4645">*<tspan x="2303">recordEvent()</tspan></text>
<text x="2291" y="4665">*<tspan x="2303">recordEvent()</tspan></text>
<text x="2291" y="4685">*<tspan x="2303">waitEvent()</tspan></text>
<text x="2291" y="4705">*<tspan x="2303">waitEvent()</tspan></text>
<text x="2291" y="4725">*<tspan x="2303">allocationOptions()</tspan></text>
<text x="2291" y="4745">*<tspan x="2303">setMemoryRessource()</tspan></text>
<text x="2291" y="4765">*<tspan x="2303">memoryRessource()</tspan></text>
</g>

<g id="n_imemoryallocator">
<rect class="b" x="1816" y="4211" width="216" height="345"/>
<path class="s" d="M1816,4234H2032M1816,4254H2032"/>
<text class="c" x="1924" y="4227">Arccore::IMemoryAllocator</text>
<text x="1827" y="4268">+<tspan x="1839">~IMemoryAllocator()</tspan></text>
<text x="1827" y="4288">+<tspan x="1839">hasRealloc()</tspan></text>
<text x="1827" y="4308">+<tspan x="1839">allocate()</tspan></text>
<text x="1827" y="4328">+<tspan x="1839">reallocate()</tspan></text>
<text x="1827" y="4348">+<tspan x="1839">deallocate()</tspan></text>
<text x="1827" y="4368">+<tspan x="1839">adjustedCapacity()</tspan></text>
<text x="1827" y="4388">+<tspan x="1839">guaranteedAlignment()</tspan></text>
<text x="1827" y="4408">+<tspan x="1839">notifyMemoryArgsChanged()</tspan></text>
<text x="1827" y="4428">+<tspan x="1839">copyMemory()</tspan></text>
<text x="1827" y="4448">+<tspan x="1839">hasRealloc()</tspan></text>
<text x="1827" y="4468">+<tspan x="1839">allocate()</tspan></text>
<text x="1827" y="4488">+<tspan x="1839">reallocate()</tspan></text>
<text x="1827" y="4508">+<tspan x="1839">deallocate()</tspan></text>
<text x="1827" y="4528">+<tspan x="1839">adjustCapacity()</tspan></text>
<text x="1827" y="4548">+<tspan x="1839">guaranteedAlignment()</tspan></text>
</g>

<g id="n_arraydebuginfo">
<rect class="b" x="2056" y="4301" width="173" height="165"/>
<path class="s" d="M2056,4323H2229M2056,4343H2229"/>
<text class="c" x="2142.5" y="4317">Arccore::ArrayDebugInfo</text>
<text x="2071" y="4337">-<tspan x="2089">m_nb_ref</tspan></text>
<text x="2071" y="4357">+<tspan x="2089">ArrayDebugInfo()</tspan></text>
<text x="2071" y="4377">+<tspan x="2089">addReference()</tspan></text>
<text x="2071" y="4397">+<tspan x="2089">removeReference()</tspan></text>
<text x="2071" y="4417">+<tspan x="2089">setName()</tspan></text>
<text x="2071" y="4437">+<tspan x="2089">name()</tspan></text>
<text x="2071" y="4457">-<tspan x="2089">~ArrayDebugInfo()</tspan></text>
</g>

<g id="n_memoryallocationoptions">
<rect class="b" x="1873" y="4836" width="219" height="339"/>
<path class="s" d="M1873,4873H2092M1873,4913H2092"/>
<text class="c" x="1982.5" y="4852">Arccore::MemoryAllocation</text>
<text class="c" x="1982.5" y="4866">Options</text>
<text x="1884" y="4887">-<tspan x="1897">m_device</tspan></text>
<text x="1884" y="4907">-<tspan x="1897">m_memory_location_hint</tspan></text>
<text x="1884" y="4927">+<tspan x="1897">MemoryAllocationOptions()</tspan></text>
<text x="1884" y="4947">+<tspan x="1897">MemoryAllocationOptions()</tspan></text>
<text x="1884" y="4967">+<tspan x="1897">MemoryAllocationOptions()</tspan></text>
<text x="1884" y="4987">+<tspan x="1897">MemoryAllocationOptions()</tspan></text>
<text x="1884" y="5007">+<tspan x="1897">MemoryAllocationOptions()</tspan></text>
<text x="1884" y="5027">+<tspan x="1897">~MemoryAllocationOptions()</tspan></text>
<text x="1884" y="5047">+<tspan x="1897">operator=()</tspan></text>
<text x="1884" y="5067">+<tspan x="1897">allocator()</tspan></text>
<text x="1884" y="5087">+<tspan x="1897">setAllocator()</tspan></text>
<text x="1884" y="5107">+<tspan x="1897">memoryLocationHint()</tspan></text>
<text x="1897" y="5127">et 7 de plus...</text>
<text x="1884" y="5147">-<tspan x="1897">_addDebugReference()</tspan></text>
<text x="1884" y="5167">-<tspan x="1897">_removeDebugReference()</tspan></text>
</g>

<g id="n_arraymetadata">
<rect class="b" x="1821" y="5239" width="201" height="485"/>
<path class="s" d="M1821,5262H2022M1821,5402H2022"/>
<text class="c" x="1921.5" y="5255">Arccore::ArrayMetaData</text>
<text x="1832" y="5276">#<tspan x="1845">size</tspan></text>
<text x="1832" y="5296">#<tspan x="1845">dim1_size</tspan></text>
<text x="1832" y="5316">#<tspan x="1845">dim2_size</tspan></text>
<text x="1832" y="5336">#<tspan x="1845">capacity</tspan></text>
<text x="1832" y="5356">#<tspan x="1845">nb_ref</tspan></text>
<text x="1832" y="5376">#<tspan x="1845">is_allocated_by_new</tspan></text>
<text x="1832" y="5396">#<tspan x="1845">is_not_null</tspan></text>
<text x="1832" y="5416">+<tspan x="1845">ArrayMetaData()</tspan></text>
<text x="1832" y="5436">+<tspan x="1845">ARCCORE_NORETURN()</tspan></text>
<text x="1832" y="5456">+<tspan x="1845">ARCCORE_NORETURN()</tspan></text>
<text x="1832" y="5476">+<tspan x="1845">ARCCORE_NORETURN()</tspan></text>
<text x="1832" y="5496">+<tspan x="1845">ARCCORE_NORETURN()</tspan></text>
<text x="1832" y="5516">+<tspan x="1845">ARCCORE_NORETURN()</tspan></text>
<text x="1832" y="5536">#<tspan x="1845">_allocator()</tspan></text>
<text x="1832" y="5556">#<tspan x="1845">_allocate()</tspan></text>
<text x="1832" y="5576">#<tspan x="1845">_reallocate()</tspan></text>
<text x="1832" y="5596">#<tspan x="1845">_deallocate()</tspan></text>
<text x="1832" y="5616">#<tspan x="1845">_setMemoryLocationHint()</tspan></text>
<text x="1832" y="5636">#<tspan x="1845">_copyFromMemory()</tspan></text>
<text x="1832" y="5656">-<tspan x="1845">_checkAllocator()</tspan></text>
<text x="1832" y="5676">-<tspan x="1845">_getAllocationArgs()</tspan></text>
<text x="1832" y="5696">-<tspan x="1845">_getAllocationArgs()</tspan></text>
<text x="1832" y="5716">-<tspan x="1845">_defaultAllocator()</tspan></text>
</g>

<g id="n_abstractarraybase">
<rect class="b" x="1677" y="5801" width="234" height="324"/>
<path class="s" d="M1677,5824H1911M1677,5844H1911"/>
<text class="c" x="1794" y="5817">Arccore::AbstractArrayBase</text>
<text x="1695" y="5858">+<tspan x="1718">AbstractArrayBase()</tspan></text>
<text x="1695" y="5878">+<tspan x="1718">~AbstractArrayBase()</tspan></text>
<text x="1695" y="5898">+<tspan x="1718">allocator()</tspan></text>
<text x="1695" y="5918">+<tspan x="1718">allocationOptions()</tspan></text>
<text x="1695" y="5938">+<tspan x="1718">setDebugName()</tspan></text>
<text x="1695" y="5958">+<tspan x="1718">debugName()</tspan></text>
<text x="1695" y="5978">#<tspan x="1718">_isUseOwnMetaData()</tspan></text>
<text x="1695" y="5998">#<tspan x="1718">_swapMetaData()</tspan></text>
<text x="1695" y="6018">#<tspan x="1718">_copyMetaData()</tspan></text>
<text x="1695" y="6038">#<tspan x="1718">_allocateMetaData()</tspan></text>
<text x="1695" y="6058">#<tspan x="1718">_deallocateMetaData()</tspan></text>
<text x="1695" y="6078">#<tspan x="1718">_checkValidSharedArray()</tspan></text>
<text x="1695" y="6098">#<tspan x="1718">_setRunQueue()</tspan></text>
<text x="1695" y="6118">#<tspan x="1718">_setUseOwnMetaData()</tspan></text>
</g>
</g>
</svg>
